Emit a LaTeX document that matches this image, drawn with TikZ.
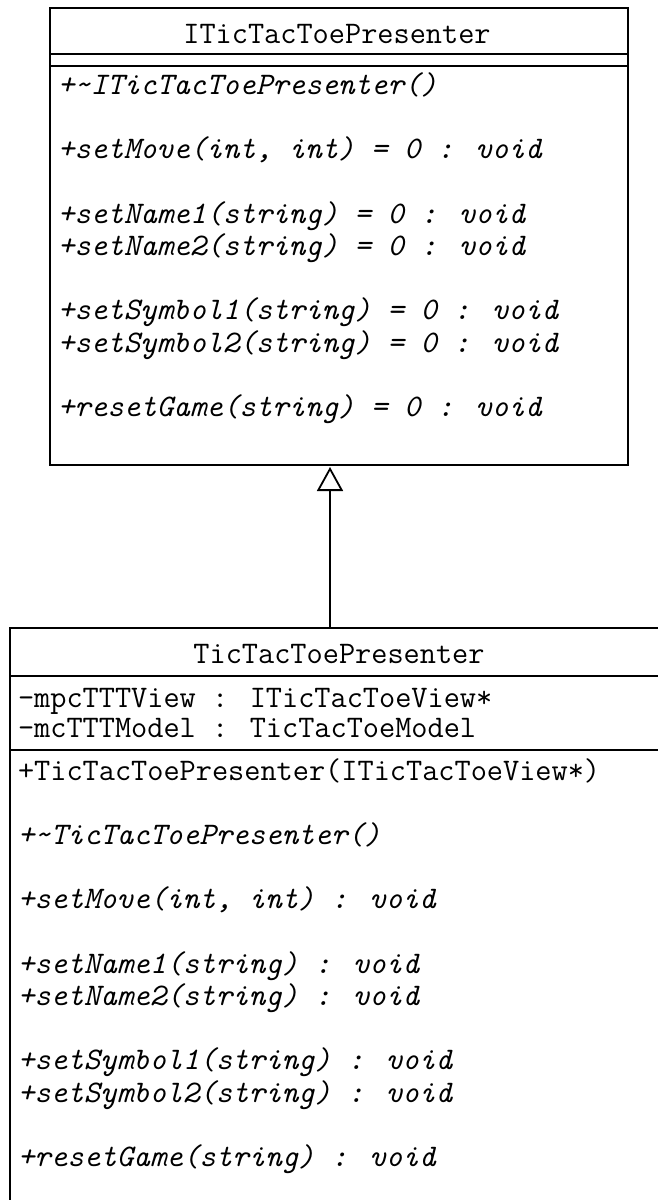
\documentclass[tikz,border=0pt]{standalone}
\usepackage{fontspec}
\usetikzlibrary{arrows.meta}
\begin{document}
\begin{tikzpicture}[x=1pt,y=-1pt,
  box/.style={draw=black, line width=1.8pt, anchor=north west, inner sep=0pt, outer sep=0pt},
  sepline/.style={line width=1.6pt},
  txt/.style={inner sep=0pt, outer sep=0pt, text=black, font=\ttfamily\fontsize{31.4pt}{36pt}\selectfont},
  ttl/.style={txt, anchor=base},
  upr/.style={txt, anchor=base west},
  itl/.style={txt, anchor=base west, font=\ttfamily\fontsize{31.4pt}{36pt}\selectfont\itshape},
  inherit/.style={line width=1.8pt, -{Triangle[open, length=24pt, width=26pt, line width=1.8pt]}}
]
\fill[white] (0,0) rectangle (658,1200);
\useasboundingbox (0,0) rectangle (658,1200);

% top class
\node[box, minimum width=578pt, minimum height=457pt] (top) at (50,8) {};
\draw[sepline] (50,54) -- (628,54);
\draw[sepline] (50,66) -- (628,66);
\node[ttl] (ttitle) at (337,43) {ITicTacToePresenter};
\node[itl] (tm1) at (58,94.5) {+\textasciitilde ITicTacToePresenter()};
\node[itl] (tm2) at (58,158.9) {+setMove(int, int) = 0 : void};
\node[itl] (tm3) at (58,223.3) {+setName1(string) = 0 : void};
\node[itl] (tm4) at (58,255.5) {+setName2(string) = 0 : void};
\node[itl] (tm5) at (58,319.9) {+setSymbol1(string) = 0 : void};
\node[itl] (tm6) at (58,352.1) {+setSymbol2(string) = 0 : void};
\node[itl] (tm7) at (58,416.5) {+resetGame(string) = 0 : void};

% bottom class
\node[box, minimum width=680pt, minimum height=620pt] (bot) at (10,628) {};
\draw[sepline] (10,676) -- (690,676);
\draw[sepline] (10,750) -- (690,750);
\node[ttl] (btitle) at (339,663) {TicTacToePresenter};
\node[upr] (ba1) at (18,707) {-mpcTTTView : ITicTacToeView*};
\node[upr] (ba2) at (18,737) {-mcTTTModel : TicTacToeModel};
\node[upr] (bm0) at (18,780) {+TicTacToePresenter(ITicTacToeView*)};
\node[itl] (bm1) at (18,844.4) {+\textasciitilde TicTacToePresenter()};
\node[itl] (bm2) at (18,908.8) {+setMove(int, int) : void};
\node[itl] (bm3) at (18,973.2) {+setName1(string) : void};
\node[itl] (bm4) at (18,1005.4) {+setName2(string) : void};
\node[itl] (bm5) at (18,1069.8) {+setSymbol1(string) : void};
\node[itl] (bm6) at (18,1102) {+setSymbol2(string) : void};
\node[itl] (bm7) at (18,1166.4) {+resetGame(string) : void};

% inheritance
\coordinate (ax) at (330,0);
\draw[inherit, shorten >=2pt] (ax |- bot.north) -- (ax |- top.south);
\end{tikzpicture}
\end{document}
